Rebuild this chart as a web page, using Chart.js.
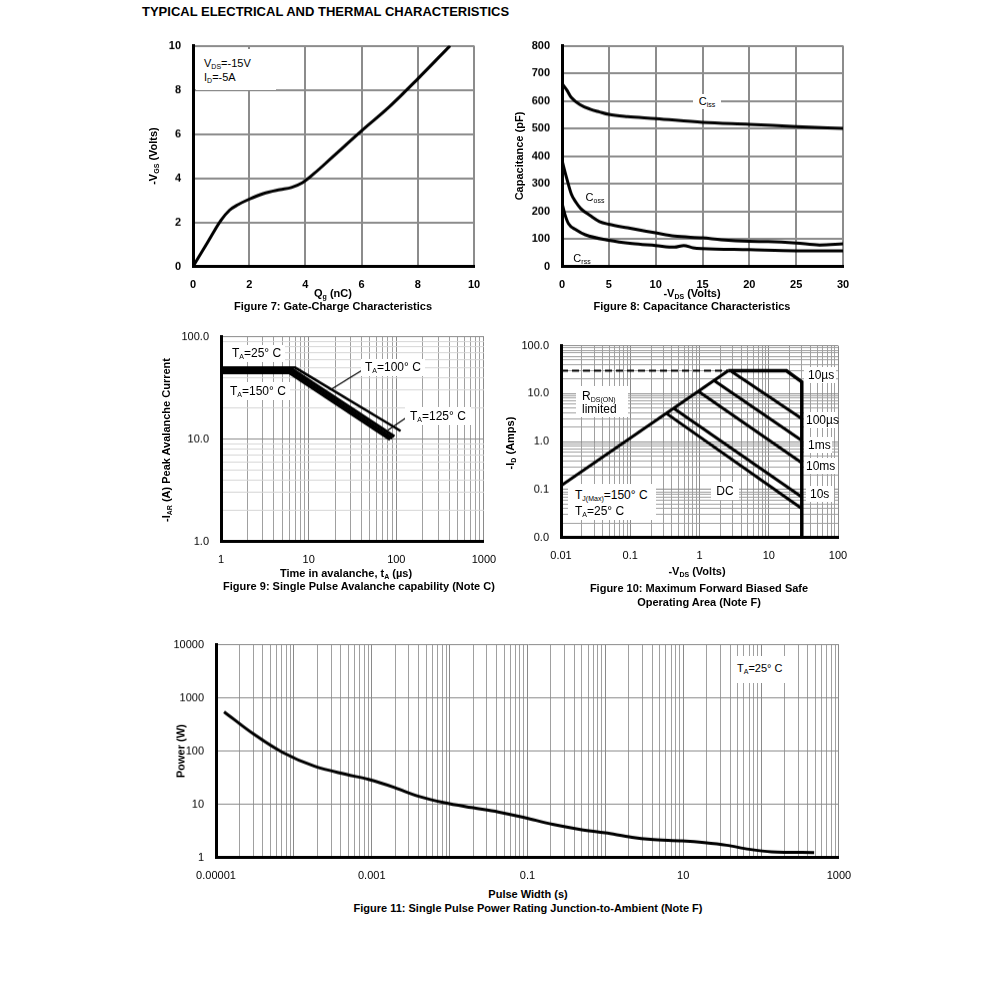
<!DOCTYPE html>
<html lang="en">
<head>
  <meta charset="UTF-8">
  <title>Typical Electrical and Thermal Characteristics</title>
  <script src="https://cdn.jsdelivr.net/npm/chart.js"></script>
  <style>
    body { margin: 0; background: #fff; font-family: 'Liberation Sans', Arial, sans-serif; }
    #page { position: relative; width: 991px; height: 1006px; }
    canvas { position: absolute; }
    .t { position: absolute; font-size: 11px; line-height: 1; white-space: nowrap; color: #000; z-index: 2; }
    .m { font-size: 12px; }
    .b { font-weight: bold; }
    .c { transform: translate(-50%, -50%); }
    .l { transform: translateY(-50%); }
    .r { transform: translate(-50%, -50%) rotate(-90deg); }
    .box { position: absolute; background: #fff; z-index: 1; }
    sub { font-size: 7px; vertical-align: -2px; line-height: 0; color: #000; }
  </style>
</head>
<body>
<div id="page">
  <div class="t b" style="left:142px;top:5px;font-size:13px">TYPICAL ELECTRICAL AND THERMAL CHARACTERISTICS</div>

  <canvas id="fig7"></canvas>
  <canvas id="fig8"></canvas>
  <canvas id="fig9"></canvas>
  <canvas id="fig10"></canvas>
  <canvas id="fig11"></canvas>

  <!-- Figure 7 -->
  <div class="box" style="left:196px;top:49px;width:80px;height:41px"></div>
  <div class="t l" style="left:204px;top:63px">V<sub>DS</sub>=-15V</div>
  <div class="t l" style="left:204px;top:77px">I<sub>D</sub>=-5A</div>
  <div class="t b r" style="left:153px;top:156px">-V<sub>GS</sub> (Volts)</div>
  <div class="t b c" style="left:333px;top:293px">Q<sub>g</sub> (nC)</div>
  <div class="t b c" style="left:333px;top:306px">Figure 7: Gate-Charge Characteristics</div>

  <!-- Figure 8 -->
  <div class="box" style="left:693px;top:94px;width:28px;height:15px"></div>
  <div class="t c" style="left:707px;top:101px">C<sub>iss</sub></div>
  <div class="t c" style="left:595px;top:197px">C<sub>oss</sub></div>
  <div class="t c" style="left:582px;top:258px">C<sub>rss</sub></div>
  <div class="t b r" style="left:519px;top:156px">Capacitance (pF)</div>
  <div class="t b c" style="left:692px;top:293px">-V<sub>DS</sub> (Volts)</div>
  <div class="t b c" style="left:692px;top:306px">Figure 8: Capacitance Characteristics</div>

  <!-- Figure 9 -->
  <div class="box" style="left:223px;top:345px;width:62px;height:17px"></div>
  <div class="t m l" style="left:232px;top:353px">T<sub>A</sub>=25° C</div>
  <div class="box" style="left:223px;top:382px;width:67px;height:18px"></div>
  <div class="t m l" style="left:230px;top:391px">T<sub>A</sub>=150° C</div>
  <div class="box" style="left:361px;top:359px;width:64px;height:17px"></div>
  <div class="t m l" style="left:365px;top:367px">T<sub>A</sub>=100° C</div>
  <div class="box" style="left:405px;top:407px;width:66px;height:18px"></div>
  <div class="t m l" style="left:410px;top:416px">T<sub>A</sub>=125° C</div>
  <div class="t b r" style="left:166px;top:440px">-I<sub>AR</sub> (A) Peak Avalanche Current</div>
  <div class="t b c" style="left:346px;top:573px">Time in avalanche, t<sub>A</sub> (µs)</div>
  <div class="t b c" style="left:359px;top:586px">Figure 9: Single Pulse Avalanche capability (Note C)</div>

  <!-- Figure 10 -->
  <div class="box" style="left:576px;top:386px;width:52px;height:31px"></div>
  <div class="t m l" style="left:582px;top:396px">R<sub>DS(ON)</sub></div>
  <div class="t m l" style="left:582px;top:409px">limited</div>
  <div class="box" style="left:568px;top:484px;width:88px;height:36px"></div>
  <div class="t m l" style="left:575px;top:495px">T<sub>J(Max)</sub>=150° C</div>
  <div class="t m l" style="left:575px;top:511px">T<sub>A</sub>=25° C</div>
  <div class="box" style="left:711px;top:482px;width:28px;height:18px"></div>
  <div class="t m c" style="left:725px;top:491px">DC</div>
  <div class="box" style="left:804px;top:367px;width:32px;height:16px"></div>
  <div class="t m l" style="left:808px;top:375px">10µs</div>
  <div class="box" style="left:804px;top:412px;width:34px;height:16px"></div>
  <div class="t m l" style="left:806px;top:420px">100µs</div>
  <div class="box" style="left:804px;top:437px;width:28px;height:16px"></div>
  <div class="t m l" style="left:808px;top:445px">1ms</div>
  <div class="box" style="left:804px;top:458px;width:34px;height:16px"></div>
  <div class="t m l" style="left:806px;top:466px">10ms</div>
  <div class="box" style="left:806px;top:486px;width:28px;height:16px"></div>
  <div class="t m l" style="left:810px;top:494px">10s</div>
  <div class="t b r" style="left:510px;top:443px">-I<sub>D</sub> (Amps)</div>
  <div class="t b c" style="left:697px;top:571px">-V<sub>DS</sub> (Volts)</div>
  <div class="t b c" style="left:699px;top:588px">Figure 10: Maximum Forward Biased Safe</div>
  <div class="t b c" style="left:699px;top:602px">Operating Area (Note F)</div>

  <!-- Figure 11 -->
  <div class="box" style="left:733px;top:656px;width:62px;height:27px"></div>
  <div class="t l" style="left:737px;top:668px">T<sub>A</sub>=25° C</div>
  <div class="t b r" style="left:181px;top:751px">Power (W)</div>
  <div class="t b c" style="left:528px;top:894px">Pulse Width (s)</div>
  <div class="t b c" style="left:528px;top:908px">Figure 11: Single Pulse Power Rating Junction-to-Ambient (Note F)</div>
</div>

<script>
  // Figure 7: gate charge
  const fig7Qg  = [0, 0.5, 1.0, 1.3, 1.6, 2.0, 2.5, 3.1, 3.5, 3.9, 4.3, 5.0, 6.0, 7.0, 8.0, 9.15];
  const fig7Vgs = [0, 1.05, 2.1, 2.55, 2.8, 3.05, 3.3, 3.48, 3.58, 3.8, 4.2, 5.0, 6.15, 7.25, 8.5, 10];

  // Figure 8: capacitance
  const fig8CissV = [0, 0.5, 1, 2, 3, 4, 5, 7, 10, 15, 20, 25, 30];
  const fig8Ciss  = [663, 640, 612, 585, 570, 560, 551, 543, 536, 522, 515, 507, 500];
  const fig8CossV = [0, 0.5, 1, 1.5, 2, 3, 4, 5, 7, 10, 12, 15, 17, 20, 22, 25, 27.5, 30];
  const fig8Coss  = [385, 320, 262, 232, 210, 185, 163, 153, 140, 122, 110, 104, 97, 91, 90, 85, 78, 82];
  const fig8CrssV = [0, 0.3, 0.7, 1.5, 2.5, 5, 7.5, 10, 12, 13, 14, 15, 20, 25, 30];
  const fig8Crss  = [230, 190, 155, 133, 115, 95, 83, 76, 70, 76, 68, 65, 61, 57, 57];

  // Figure 9: avalanche current
  const fig9TimeTa100 = [1, 7, 112];
  const fig9IarTa100  = [50, 50, 12];
  const fig9TimeTa25  = [1, 6.5, 95];
  const fig9IarTa25   = [48, 48, 10.6];
  const fig9TimeTa125 = [1, 6.3, 90];
  const fig9IarTa125  = [46, 46, 10.2];
  const fig9TimeTa150 = [1, 6, 85];
  const fig9IarTa150  = [44.5, 44.5, 9.9];
  const fig9Lead100X = [41.6, 17.5];
  const fig9Lead100Y = [47.5, 30.2];
  const fig9Lead125X = [139, 80];
  const fig9Lead125Y = [16.8, 12.2];
  const fig9XTicks = [1, 10, 100, 1000];
  const fig9XLabels = ['1', '10', '100', '1000'];
  const fig9YTicks = [1, 10, 100];
  const fig9YLabels = ['1.0', '10.0', '100.0'];

  // Figure 10: safe operating area
  const fig10RdsV = [0.01, 2.6];
  const fig10RdsI = [0.12, 30];
  const fig10LimV = [0.01, 2.6];
  const fig10LimI = [30, 30];
  const fig10Us10V = [2.6, 18, 30, 30];
  const fig10Us10I = [30, 30, 17.6, 0.01];
  const fig10Us100V = [2.9, 30];
  const fig10Us100I = [29, 3.0];
  const fig10Ms1V = [1.6, 30];
  const fig10Ms1I = [19, 1.05];
  const fig10Ms10V = [0.95, 30];
  const fig10Ms10I = [11.3, 0.36];
  const fig10S10V = [0.42, 30];
  const fig10S10I = [5.0, 0.07];
  const fig10DcV = [0.33, 30];
  const fig10DcI = [3.9, 0.04];
  const fig10XTicks = [0.01, 0.1, 1, 10, 100];
  const fig10XLabels = ['0.01', '0.1', '1', '10', '100'];
  const fig10YTicks = [0.01, 0.1, 1, 10, 100];
  const fig10YLabels = ['0.0', '0.1', '1.0', '10.0', '100.0'];

  // Figure 11: single pulse power
  const fig11Width = [1.27e-5, 3.1e-5, 7.3e-5, 1.84e-4, 4.7e-4, 9.1e-4, 2.0e-3, 3.9e-3, 8.6e-3, 0.019, 0.042, 0.093, 0.21, 0.46, 1.0, 2.2, 3.8, 9.7, 18.7, 36, 70, 137, 480];
  const fig11Power = [548, 205, 93, 52, 36.5, 29.4, 20.5, 14.3, 10.7, 8.7, 7.2, 5.6, 4.2, 3.4, 2.9, 2.4, 2.2, 2.05, 1.9, 1.7, 1.43, 1.28, 1.24];
  const fig11XTicks = [1e-5, 1e-3, 0.1, 10, 1000];
  const fig11XLabels = ['0.00001', '0.001', '0.1', '10', '1000'];
  const fig11YTicks = [1, 10, 100, 1000, 10000];
  const fig11YLabels = ['1', '10', '100', '1000', '10000'];

  Chart.defaults.font.family = "'Liberation Sans', Arial, sans-serif";
  Chart.defaults.font.size = 11;
  Chart.defaults.color = '#000';

  function pts(xs, ys) {
    return xs.map((x, i) => ({ x: x, y: ys[i] }));
  }

  function line(xs, ys, extra) {
    return Object.assign({
      data: pts(xs, ys), showLine: true, pointRadius: 0, borderColor: '#000',
      borderWidth: 3, fill: false
    }, extra || {});
  }

  function isDecade(v) {
    const l = Math.log10(v);
    return Math.abs(l - Math.round(l)) < 1e-6;
  }

  // 1..9 in every decade, for the log grids
  function logTicks(min, max) {
    const out = [];
    for (let e = Math.round(Math.log10(min)); e < Math.round(Math.log10(max)); e++) {
      for (let s = 1; s < 10; s++) out.push(s * Math.pow(10, e));
    }
    out.push(max);
    return out;
  }

  function labelFor(v, vals, labs) {
    const i = vals.findIndex(t => Math.abs(Math.log10(t) - Math.log10(v)) < 1e-6);
    return i < 0 ? '' : labs[i];
  }

  function linAxis(min, max, step) {
    return {
      type: 'linear', min: min, max: max,
      ticks: { stepSize: step, padding: 12, font: { weight: 'bold' } },
      grid: { color: '#8c8c8c', lineWidth: 2, drawTicks: false },
      border: { color: '#000', width: 3 }
    };
  }

  function logAxis(min, max, tickVals, tickLabs, gridVals, minorColor) {
    return {
      type: 'logarithmic', min: min, max: max,
      afterBuildTicks: s => { s.ticks = gridVals.map(v => ({ value: v })); },
      ticks: { autoSkip: false, maxRotation: 0, padding: 12,
               callback: v => labelFor(v, tickVals, tickLabs) },
      grid: { drawTicks: false, lineWidth: 1,
              color: ctx => (ctx.tick && isDecade(ctx.tick.value)) ? '#8a8a8a' : minorColor },
      border: { color: '#000', width: 3 }
    };
  }

  // box = wanted plot area on the page; the canvas is moved/resized until it lands there
  function makeChart(id, box, datasets, scales) {
    const yW = 50, xH = 30;
    const cv = document.getElementById(id);
    const w = box.r - box.l + yW + 30;
    const h = box.b - box.t + xH + 20;
    cv.width = w; cv.height = h;
    scales.x.afterFit = s => { s.height = xH; };
    scales.y.afterFit = s => { s.width = yW; };
    const chart = new Chart(cv, {
      type: 'scatter',
      data: { datasets: datasets },
      options: {
        responsive: false, maintainAspectRatio: false, animation: false,
        layout: { padding: { top: 10, right: 22, left: 0, bottom: 0 } },
        plugins: { legend: { display: false }, tooltip: { enabled: false } },
        scales: scales
      }
    });
    let a = chart.chartArea;
    const dw = (box.r - box.l) - (a.right - a.left);
    const dh = (box.b - box.t) - (a.bottom - a.top);
    if (dw || dh) chart.resize(w + dw, h + dh);
    a = chart.chartArea;
    cv.style.left = (box.l - a.left) + 'px';
    cv.style.top = (box.t - a.top) + 'px';
    return chart;
  }

  makeChart('fig7', { l: 193, t: 46, r: 474, b: 266 },
    [line(fig7Qg, fig7Vgs, { cubicInterpolationMode: 'monotone' })],
    { x: linAxis(0, 10, 2), y: linAxis(0, 10, 2) });

  makeChart('fig8', { l: 562, t: 46, r: 843, b: 266 },
    [
      line(fig8CissV, fig8Ciss, { cubicInterpolationMode: 'monotone' }),
      line(fig8CossV, fig8Coss, { cubicInterpolationMode: 'monotone' }),
      line(fig8CrssV, fig8Crss, { cubicInterpolationMode: 'monotone' })
    ],
    { x: linAxis(0, 30, 5), y: linAxis(0, 800, 100) });

  makeChart('fig9', { l: 221, t: 337, r: 484, b: 541 },
    [
      line(fig9TimeTa150, fig9IarTa150),
      line(fig9TimeTa125, fig9IarTa125),
      line(fig9TimeTa25, fig9IarTa25),
      line(fig9TimeTa100, fig9IarTa100, { borderWidth: 2.5 }),
      line(fig9Lead100X, fig9Lead100Y, { borderWidth: 1.2 }),
      line(fig9Lead125X, fig9Lead125Y, { borderWidth: 1.2 })
    ],
    {
      x: logAxis(1, 1000, fig9XTicks, fig9XLabels, logTicks(1, 1000), '#a0a0a0'),
      y: logAxis(1, 100, fig9YTicks, fig9YLabels, logTicks(1, 100), '#d6d6d6')
    });

  makeChart('fig10', { l: 561, t: 346, r: 838, b: 537 },
    [
      line(fig10LimV, fig10LimI, { borderWidth: 2, borderDash: [7, 4] }),
      line(fig10RdsV, fig10RdsI),
      line(fig10Us10V, fig10Us10I, { borderWidth: 3.5 }),
      line(fig10Us100V, fig10Us100I),
      line(fig10Ms1V, fig10Ms1I),
      line(fig10Ms10V, fig10Ms10I),
      line(fig10S10V, fig10S10I),
      line(fig10DcV, fig10DcI)
    ],
    {
      x: logAxis(0.01, 100, fig10XTicks, fig10XLabels, logTicks(0.01, 100), '#a0a0a0'),
      y: logAxis(0.01, 100, fig10YTicks, fig10YLabels, logTicks(0.01, 100), '#a0a0a0')
    });

  makeChart('fig11', { l: 216, t: 645, r: 839, b: 857 },
    [line(fig11Width, fig11Power, { cubicInterpolationMode: 'monotone' })],
    {
      x: logAxis(1e-5, 1000, fig11XTicks, fig11XLabels, logTicks(1e-5, 1000), '#a0a0a0'),
      y: logAxis(1, 10000, fig11YTicks, fig11YLabels, fig11YTicks, '#a0a0a0')
    });
</script>
</body>
</html>
